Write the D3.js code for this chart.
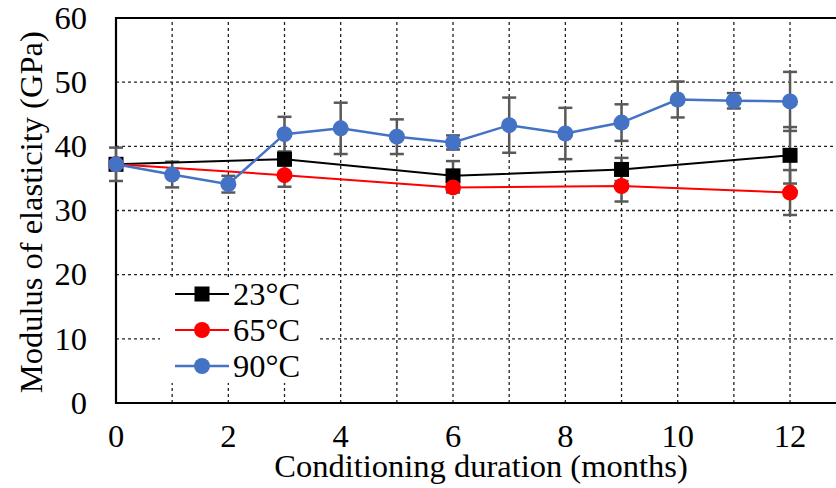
<!DOCTYPE html>
<html>
<head>
<meta charset="utf-8">
<script src="https://cdn.jsdelivr.net/npm/d3@7"></script>
<style>
  body { margin: 0; background: #fff; }
  #chart { position: relative; width: 836px; height: 488px; overflow: hidden; }
  #chart svg { position: absolute; left: 0; top: 0; }
  .lbl { position: absolute; font-family: "Liberation Serif", serif; font-size: 32.5px; line-height: 32.5px;
         height: 32.5px; white-space: nowrap; color: #000; margin: 0; padding: 0; }
</style>
</head>
<body>
<div id="chart"></div>
<script>
// months for each series
var monthsA = [0, 3, 6, 9, 12];
var monthsB = [0, 1, 2, 3, 4, 5, 6, 7, 8, 9, 10, 11, 12];

// modulus values (GPa) and error bars
var mod23 = [37.2, 38.0, 35.4, 36.4, 38.6];
var err23 = [0.6, 1.0, 2.3, 1.8, 4.4];
var mod65 = [37.2, 35.5, 33.6, 33.8, 32.8];
var err65 = [0.6, 1.8, 0.8, 2.4, 3.5];
var mod90 = [37.2, 35.6, 34.1, 41.9, 42.8, 41.5, 40.6, 43.3, 42.0, 43.7, 47.3, 47.1, 47.0];
var err90 = [2.6, 2.0, 1.3, 2.7, 4.0, 2.7, 1.1, 4.3, 4.0, 2.85, 2.8, 1.2, 4.6];

var xTicks = [0, 2, 4, 6, 8, 10, 12];
var yTicks = [0, 10, 20, 30, 40, 50, 60];
var legendLabels = ["23°C", "65°C", "90°C"];

var W = 836, H = 488;
var box = d3.select("#chart");
var svg = box.append("svg").attr("width", W).attr("height", H);

// plot area runs off the right side of the picture, as in the original
var x = d3.scaleLinear().domain([0, 14]).range([116, 116 + 14 * 56.17]);
var y = d3.scaleLinear().domain([0, 60]).range([403, 18]);

//grid lines
var grid = svg.append("g");
grid.selectAll(".hg").data(yTicks.filter(function (d) { return d > 0 && d < 60; }))
  .enter().append("line")
  .attr("x1", x(0)).attr("x2", W)
  .attr("y1", function (d) { return y(d); }).attr("y2", function (d) { return y(d); })
  .attr("stroke", "#222").attr("stroke-width", 1.3).attr("stroke-dasharray", "3,3");
grid.selectAll(".vg").data(d3.range(1, 14))
  .enter().append("line")
  .attr("y1", y(0)).attr("y2", y(60))
  .attr("x1", function (d) { return x(d); }).attr("x2", function (d) { return x(d); })
  .attr("stroke", "#222").attr("stroke-width", 1.3).attr("stroke-dasharray", "3,3");

//frame
svg.append("path")
  .attr("d", "M" + W + "," + y(60) + "H" + x(0) + "V" + y(0) + "H" + W)
  .attr("fill", "none").attr("stroke", "#000").attr("stroke-width", 2.2);

//tick labels (html text on top of the svg so the serif face is used)
box.selectAll(".ylab").data(yTicks).enter().append("div")
  .attr("class", "lbl ylab")
  .style("left", "0px").style("width", "87px").style("text-align", "right")
  .style("top", function (d) { return (y(d) - 16.25) + "px"; })
  .text(function (d) { return d; });
box.selectAll(".xlab").data(xTicks).enter().append("div")
  .attr("class", "lbl xlab")
  .style("left", function (d) { return (x(d) - 40) + "px"; }).style("width", "80px").style("text-align", "center")
  .style("top", (436 - 16.25) + "px")
  .text(function (d) { return d; });

//axis titles
box.append("div").attr("class", "lbl")
  .style("left", (481 - 300) + "px").style("width", "600px").style("text-align", "center")
  .style("top", "450px").text("Conditioning duration (months)");
box.append("div").attr("class", "lbl")
  .style("left", (31 - 250) + "px").style("width", "500px").style("text-align", "center")
  .style("top", (212 - 16.25) + "px").style("transform", "rotate(-90deg)")
  .text("Modulus of elasticity (GPa)");

var series = [
  { name: legendLabels[0], months: monthsA, vals: mod23, errs: err23, color: "#000000", shape: "square", lw: 2 },
  { name: legendLabels[1], months: monthsA, vals: mod65, errs: err65, color: "#FF0000", shape: "circle", lw: 2 },
  { name: legendLabels[2], months: monthsB, vals: mod90, errs: err90, color: "#4472C4", shape: "circle", lw: 2.5 }
];

//error bars go under everything
var errG = svg.append("g");
series.forEach(function (s) {
  s.months.forEach(function (m, i) {
    var cx = x(m), top = y(s.vals[i] + s.errs[i]), bot = y(s.vals[i] - s.errs[i]);
    errG.append("line").attr("x1", cx).attr("x2", cx).attr("y1", top).attr("y2", bot)
      .attr("stroke", "#595959").attr("stroke-width", 2.5);
    [top, bot].forEach(function (yy) {
      errG.append("line").attr("x1", cx - 7).attr("x2", cx + 7).attr("y1", yy).attr("y2", yy)
        .attr("stroke", "#595959").attr("stroke-width", 2.5);
    });
  });
});

var line = d3.line().x(function (d) { return x(d[0]); }).y(function (d) { return y(d[1]); });

function drawMarker(g, s, cx, cy) {
  if (s.shape === "square") {
    g.append("rect").attr("x", cx - 7.5).attr("y", cy - 7.5).attr("width", 15).attr("height", 15)
      .attr("fill", s.color);
  } else {
    g.append("circle").attr("cx", cx).attr("cy", cy).attr("r", 8).attr("fill", s.color);
  }
}

series.forEach(function (s) {
  var g = svg.append("g");
  var pts = s.months.map(function (m, i) { return [m, s.vals[i]]; });
  g.append("path").attr("d", line(pts)).attr("fill", "none")
    .attr("stroke", s.color).attr("stroke-width", s.lw);
  pts.forEach(function (p) { drawMarker(g, s, x(p[0]), y(p[1])); });
});

//legend with white background
var leg = svg.append("g");
leg.append("rect").attr("x", 160).attr("y", 278).attr("width", 158).attr("height", 105).attr("fill", "#fff");
series.forEach(function (s, i) {
  var ly = 294 + i * 36;
  leg.append("line").attr("x1", 175).attr("x2", 229).attr("y1", ly).attr("y2", ly)
    .attr("stroke", s.color).attr("stroke-width", s.lw);
  drawMarker(leg, s, 202, ly);
  box.append("div").attr("class", "lbl")
    .style("left", "233px").style("top", (ly - 16.2) + "px").text(s.name);
});
</script>
</body>
</html>
